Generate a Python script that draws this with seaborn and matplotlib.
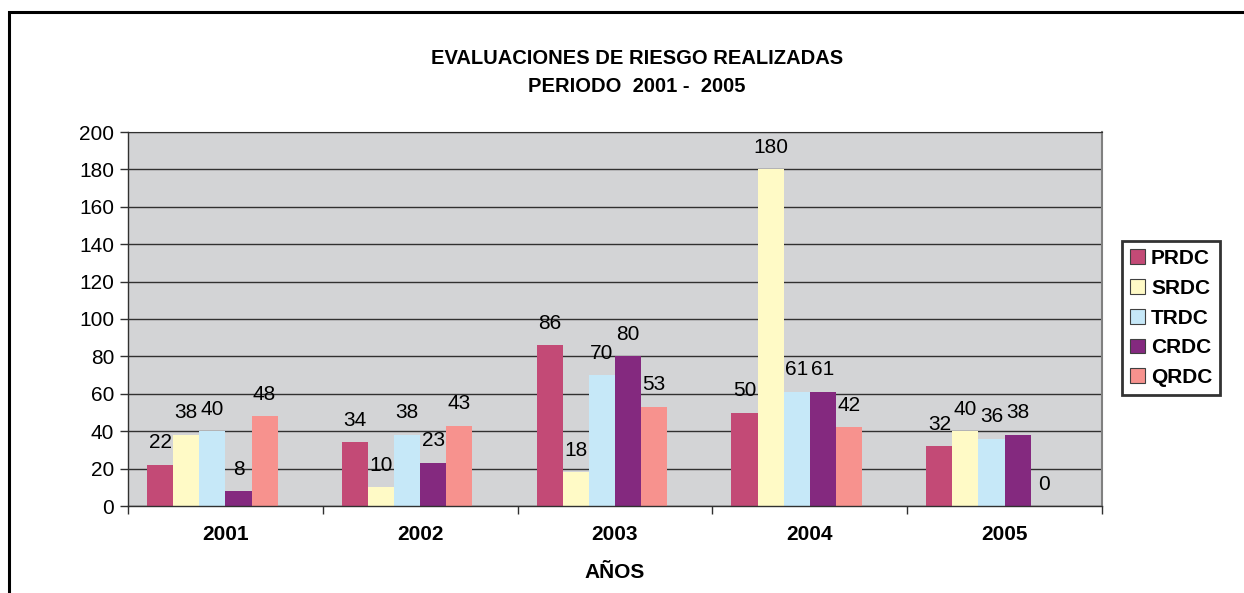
import numpy as np
import pandas as pd
import matplotlib
matplotlib.use("Agg")
import matplotlib.pyplot as plt
import seaborn as sns
from matplotlib.patches import Rectangle

# Datos
anios = ['2001', '2002', '2003', '2004', '2005']
series = ['PRDC', 'SRDC', 'TRDC', 'CRDC', 'QRDC']
prdc = [22, 34, 86, 50, 32]
srdc = [38, 10, 18, 180, 40]
trdc = [40, 38, 70, 61, 36]
crdc = [8, 23, 80, 61, 38]
qrdc = [48, 43, 53, 42, 0]
colores = ['#C34A76', '#FFFAC6', '#C6E8F8', '#84297F', '#F7928E']

valores = [prdc, srdc, trdc, crdc, qrdc]
df = pd.DataFrame([
    {'anio': a, 'serie': s, 'valor': v}
    for s, vals in zip(series, valores)
    for a, v in zip(anios, vals)
])

sns.set_style('white')
plt.rcParams['font.family'] = ['Liberation Sans', 'DejaVu Sans']
plt.rcParams['text.color'] = 'black'
plt.rcParams['axes.labelcolor'] = 'black'
plt.rcParams['xtick.labelcolor'] = 'black'
plt.rcParams['ytick.labelcolor'] = 'black'

fig = plt.figure(figsize=(12.44, 5.93), dpi=100)
ax = fig.add_axes([128 / 1244, 1 - 506 / 593, (1102 - 128) / 1244, (506 - 132) / 593])
ax.set_facecolor('#D3D4D6')

ancho = 0.67
sns.barplot(data=df, x='anio', y='valor', hue='serie', order=anios,
            hue_order=series, palette=colores, width=ancho, gap=0,
            saturation=1, linewidth=0, ax=ax, legend=True)

# Excel desplaza los grupos media barra a la izquierda
desplazamiento = ancho / len(series) / 2
for p in ax.patches:
    p.set_x(p.get_x() - desplazamiento)

# Etiquetas de datos
for cont in ax.containers:
    ax.bar_label(cont, fmt='%d', padding=9, fontsize=15, color='black')

# Ejes y cuadricula
ax.set_ylim(0, 200)
ax.set_yticks(np.arange(0, 201, 20))
ax.set_xlim(-0.5, 4.5)
ax.yaxis.grid(True, color='#303030', linewidth=1)
ax.set_axisbelow(True)
ax.tick_params(axis='y', which='major', direction='out', length=6, width=1,
               color='#303030', labelsize=15, left=True, pad=4)
ax.set_xticks(range(len(anios)))
ax.set_xticklabels(anios, fontweight='bold', fontsize=15)
ax.set_xticks(np.arange(-0.5, 4.6, 1), minor=True)
ax.tick_params(axis='x', which='major', length=0, pad=14)
ax.tick_params(axis='x', which='minor', direction='out', length=6, width=1,
               color='#303030', bottom=True)

for side in ['left', 'bottom']:
    ax.spines[side].set_color('#303030')
    ax.spines[side].set_linewidth(1)
ax.spines['top'].set_color('#303030')
ax.spines['right'].set_color('#808080')
ax.spines['right'].set_linewidth(1.5)

ax.set_ylabel('')
ax.set_xlabel('AÑOS', fontweight='bold', fontsize=15, labelpad=13)

# Titulo
fig.text(637 / 1244, 1 - 59 / 593,
         'EVALUACIONES DE RIESGO REALIZADAS', ha='center', va='center',
         fontweight='bold', fontsize=14.5)
fig.text(637 / 1244, 1 - 86 / 593,
         'PERIODO  2001 -  2005', ha='center', va='center',
         fontweight='bold', fontsize=14.5)

# Leyenda
ax.legend_.remove()
handles = [Rectangle((0, 0), 1, 1, facecolor=c, edgecolor='#404040', linewidth=0.8)
           for c in colores]
leg = fig.legend(handles, series, loc='center', bbox_to_anchor=(1171 / 1244, 1 - 318 / 593),
                 frameon=True, fancybox=False, edgecolor='black', handlelength=0.72,
                 handleheight=0.72, handletextpad=0.3, labelspacing=0.52,
                 borderpad=0.38, prop={'weight': 'bold', 'size': 15})
leg.get_frame().set_linewidth(2)

# Marco exterior del grafico
fig.patches.append(Rectangle((9 / 1244, -0.2), 1.5, 1.2 - 12 / 593,
                             transform=fig.transFigure, fill=False,
                             edgecolor='black', linewidth=2.2))

fig.savefig('out.png', dpi=100)
